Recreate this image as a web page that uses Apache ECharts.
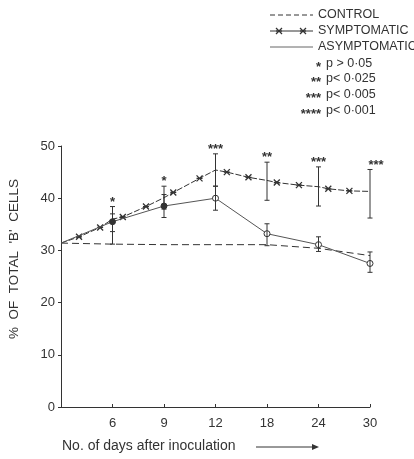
<!DOCTYPE html>
<html><head><meta charset="utf-8">
<script src="https://cdn.jsdelivr.net/npm/echarts@6/dist/echarts.min.js"></script>
<style>html,body{margin:0;padding:0;background:#fff}#c{width:414px;height:459px}</style>
</head><body><div id="c"></div>
<script>
// Category positions on the x axis: 0 = origin, 1..6 = days below
const dayLabels = ['', '6', '9', '12', '18', '24', '30'];
const positions = [0, 1, 2, 3, 4, 5, 6];

const controlValues = [31.4, 31.2, 31.1, 31.1, 31.1, 30.4, 29.0];
const symptomaticValues = [31.4, 36.0, 40.1, 45.4, 43.4, 42.2, 41.3];
const asymptomaticValues = [31.4, 35.5, 38.5, 40.0, 33.2, 31.1, 27.5];

// intermediate asterisk marks drawn along the symptomatic line [position, value]
const symptomaticMarks = [[0.35, 32.6], [0.76, 34.4], [1.2, 36.4], [1.65, 38.4], [2.18, 41.1], [2.69, 43.8],
  [3.22, 45.0], [3.64, 44.0], [4.19, 43.0], [4.62, 42.5], [5.19, 41.8], [5.6, 41.4]];

// error bars [position, low, high]
const symptomaticErr = [[1, 33.6, 38.4], [2, 37.9, 42.3], [3, 42.3, 48.5], [4, 39.6, 46.9], [5, 38.5, 46.0], [6, 36.2, 45.5]];
const asymptomaticErr = [[1, 31.2, 37.0], [2, 36.3, 40.7], [3, 37.7, 42.3], [4, 30.9, 35.1], [5, 29.8, 32.6], [6, 25.8, 29.7]];

// significance stars above symptomatic bars
const significance = ['*', '*', '***', '**', '***', '***'];

const legendNames = ['CONTROL', 'SYMPTOMATIC', 'ASYMPTOMATIC'];
const pLegendStars = ['*', '**', '***', '****'];
const pLegendText = ['p > 0·05', 'p< 0·025', 'p< 0·005', 'p< 0·001'];

const ink = '#333';
const FONT = 'Liberation Sans, Arial, sans-serif';
const starPath = 'path://M0,0L10,10M10,0L0,10M0,5L10,5';

const chart = echarts.init(document.getElementById('c'));

const symData = [];
positions.forEach((p, i) => symData.push({ value: [p, symptomaticValues[i]], symbol: 'none' }));
symptomaticMarks.forEach(m => symData.push({ value: m }));
symData.sort((a, b) => a.value[0] - b.value[0]);

const asymData = positions.map((p, i) => ({
  value: [p, asymptomaticValues[i]],
  symbol: i === 0 ? 'none' : 'circle',
  itemStyle: { color: (i === 1 || i === 2) ? ink : '#fff', borderColor: ink, borderWidth: 1 }
}));

function errRender(params, api) {
  const x = api.value(0);
  const lo = api.coord([x, api.value(1)]);
  const hi = api.coord([x, api.value(2)]);
  const c = 2.5;
  return {
    type: 'group',
    children: [
      { type: 'line', shape: { x1: lo[0], y1: lo[1], x2: hi[0], y2: hi[1] }, style: { stroke: ink, lineWidth: 1 } },
      { type: 'line', shape: { x1: lo[0] - c, y1: lo[1], x2: lo[0] + c, y2: lo[1] }, style: { stroke: ink, lineWidth: 1 } },
      { type: 'line', shape: { x1: hi[0] - c, y1: hi[1], x2: hi[0] + c, y2: hi[1] }, style: { stroke: ink, lineWidth: 1 } }
    ]
  };
}

const sigData = symptomaticErr.map((e, i) => [e[0], e[2], i]);

function starMark(cx, cy) {
  const s = 3;
  return [
    { type: 'line', shape: { x1: cx - s, y1: cy - s, x2: cx + s, y2: cy + s }, style: { stroke: ink, lineWidth: 1.2 } },
    { type: 'line', shape: { x1: cx - s, y1: cy + s, x2: cx + s, y2: cy - s }, style: { stroke: ink, lineWidth: 1.2 } },
    { type: 'line', shape: { x1: cx - s, y1: cy, x2: cx + s, y2: cy }, style: { stroke: ink, lineWidth: 1.2 } }
  ];
}

const graphic = [];
// legend lines
const lx1 = 270, lx2 = 313, tx = 318;
const rowY = [15, 31, 47];
graphic.push({ type: 'line', shape: { x1: lx1, y1: rowY[0], x2: lx2, y2: rowY[0] }, style: { stroke: ink, lineWidth: 1, lineDash: [5, 3] } });
graphic.push({ type: 'line', shape: { x1: lx1, y1: rowY[1], x2: lx2, y2: rowY[1] }, style: { stroke: ink, lineWidth: 1 } });
starMark(279, rowY[1]).forEach(g => graphic.push(g));
starMark(303, rowY[1]).forEach(g => graphic.push(g));
graphic.push({ type: 'line', shape: { x1: lx1, y1: rowY[2], x2: lx2, y2: rowY[2] }, style: { stroke: '#666', lineWidth: 1 } });
legendNames.forEach((n, i) => graphic.push({
  type: 'text', x: tx, y: rowY[i], style: { text: n, fill: ink, font: '12.5px ' + FONT, textVerticalAlign: 'middle' }
}));
const pY = [64, 79, 95, 111];
pLegendStars.forEach((s, i) => {
  graphic.push({ type: 'text', x: 321, y: pY[i] + 3, style: { text: s, fill: ink, font: 'bold 13px ' + FONT, textAlign: 'right', textVerticalAlign: 'middle' } });
  graphic.push({ type: 'text', x: 326, y: pY[i], style: { text: pLegendText[i], fill: ink, font: '12.5px ' + FONT, textVerticalAlign: 'middle' } });
});
// x-axis title with arrow
graphic.push({ type: 'text', x: 62, y: 446, style: { text: 'No. of days after inoculation', fill: ink, font: '14px ' + FONT, textVerticalAlign: 'middle' } });
graphic.push({ type: 'line', shape: { x1: 256, y1: 447, x2: 313, y2: 447 }, style: { stroke: ink, lineWidth: 1 } });
graphic.push({ type: 'polygon', shape: { points: [[312, 444], [319, 447], [312, 450]] }, style: { fill: ink } });
// y-axis title
graphic.push({ type: 'text', x: 14, y: 259, rotation: Math.PI / 2, style: { text: "%  OF  TOTAL  'B'  CELLS", fill: ink, font: '13.5px ' + FONT, textAlign: 'center', textVerticalAlign: 'middle' } });

chart.setOption({
  animation: false,
  backgroundColor: '#fff',
  grid: { left: 61, right: 44, top: 146, bottom: 52 },
  xAxis: {
    type: 'value', min: 0, max: 6, interval: 1,
    axisLine: { lineStyle: { color: ink, width: 1 } },
    axisTick: { show: true, length: 3, inside: true, lineStyle: { color: ink } },
    splitLine: { show: false },
    axisLabel: { color: ink, fontSize: 13, fontFamily: FONT, margin: 10, formatter: v => dayLabels[v] || '' }
  },
  yAxis: {
    type: 'value', min: 0, max: 50, interval: 10,
    axisLine: { show: true, lineStyle: { color: ink, width: 1 } },
    axisTick: { show: true, length: 3, lineStyle: { color: ink } },
    splitLine: { show: false },
    axisLabel: { color: ink, fontSize: 13, fontFamily: FONT, margin: 6 }
  },
  graphic: graphic,
  series: [
    { name: 'CONTROL', type: 'line', data: positions.map((p, i) => [p, controlValues[i]]), symbol: 'none',
      lineStyle: { color: ink, width: 1, type: [7, 4] }, z: 2 },
    { name: 'SYMPTOMATIC', type: 'line', data: symData, symbol: starPath, symbolSize: 6,
      itemStyle: { color: ink, borderColor: ink, borderWidth: 1.3 },
      lineStyle: { color: ink, width: 1, type: [6, 2] }, z: 3 },
    { name: 'ASYMPTOMATIC', type: 'line', data: asymData, symbolSize: 6,
      lineStyle: { color: '#555', width: 1 }, z: 4 },
    { type: 'custom', data: symptomaticErr, renderItem: errRender, z: 5 },
    { type: 'custom', data: asymptomaticErr, renderItem: errRender, z: 5 },
    { type: 'custom', data: sigData, z: 6, renderItem: (params, api) => {
        const pt = api.coord([api.value(0), api.value(1)]);
        const i = api.value(2);
        return { type: 'text', x: pt[0] + (i === 5 ? 6 : 0), y: pt[1] + 2,
          style: { text: significance[i], fill: ink, font: 'bold 13px ' + FONT, textAlign: 'center', textVerticalAlign: 'bottom' } };
      } }
  ]
});
</script></body></html>
